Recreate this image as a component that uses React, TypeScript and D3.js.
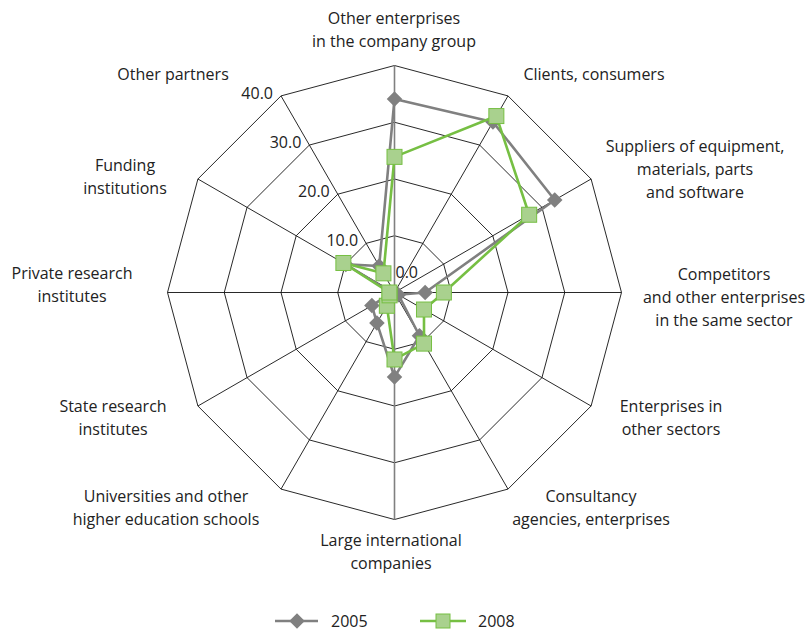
import React from 'react';
import * as d3 from 'd3';

// categories, clockwise from the top
const categories = [
  ['Other enterprises', 'in the company group'],
  ['Clients, consumers'],
  ['Suppliers of equipment,', 'materials, parts', 'and software'],
  ['Competitors', 'and other enterprises', 'in the same sector'],
  ['Enterprises in', 'other sectors'],
  ['Consultancy', 'agencies, enterprises'],
  ['Large international', 'companies'],
  ['Universities and other', 'higher education schools'],
  ['State research', 'institutes'],
  ['Private research', 'institutes'],
  ['Funding', 'institutions'],
  ['Other partners'],
];

const values2005 = [34.1, 34.7, 32.6, 5.4, 0.8, 8.8, 14.9, 6.2, 4.6, 0.5, 9.9, 5.4];
const values2008 = [23.9, 35.9, 27.4, 8.7, 6.0, 10.4, 11.8, 2.7, 1.0, 0.9, 10.4, 3.9];

const ticks = [0, 10, 20, 30, 40];

// label block centres (layout only)
const labelPos: [number, number][] = [
  [394, 30], [594, 74], [695, 169], [724, 297], [671, 418], [591, 508],
  [391, 552], [166, 508], [113, 418], [72, 285], [125, 177], [173, 74],
];

const W = 810;
const H = 632;
const cx = 394.5;
const cy = 292.5;
const R = 227;
const FONT = '"Open Sans", "Noto Sans", sans-serif';
const GREY = '#808080';
const GREEN = '#76bf43';
const GREEN_FILL = '#a9d18e';

export default function App() {
  const r = d3.scaleLinear().domain([0, 40]).range([0, R]);
  const angle = d3.scaleLinear().domain([0, categories.length]).range([0, 2 * Math.PI]);

  const pt = (i: number, v: number): [number, number] => {
    const a = angle(i);
    return [cx + r(v) * Math.sin(a), cy - r(v) * Math.cos(a)];
  };

  const ring = (v: number) =>
    d3.line()(categories.map((_, i) => pt(i, v))) + 'Z';

  const seriesPath = (vals: number[]) =>
    d3.line()(vals.map((v, i) => pt(i, v))) + 'Z';

  const lineH = 23;
  const legendY = 621;

  return (
    <svg
      width={W}
      height={H}
      style={{ position: 'absolute', left: 0, top: 0, background: '#fff' }}
      fontFamily={FONT}
    >
      {/* grid rings */}
      {ticks.slice(1).map((t) => (
        <path key={t} d={ring(t)} fill="none" stroke="#111" strokeWidth={0.9} />
      ))}
      {/* spokes */}
      {categories.map((_, i) => {
        const [x, y] = pt(i, 40);
        const vertical = i === 0 || i === 6;
        return (
          <line
            key={i}
            x1={cx}
            y1={cy}
            x2={x}
            y2={y}
            stroke={vertical ? GREY : '#111'}
            strokeWidth={vertical ? 1.6 : 0.9}
          />
        );
      })}

      {/* tick labels */}
      {ticks.map((t) => {
        if (t === 0) {
          return (
            <text key={t} x={cx + 1} y={cy - 20} dy="0.35em" fontSize={16} fill="#222">
              {d3.format('.1f')(t)}
            </text>
          );
        }
        const [x, y] = pt(11, t);
        return (
          <text key={t} x={x - 8} y={y - 3} dy="0.35em" fontSize={16} fill="#222" textAnchor="end">
            {d3.format('.1f')(t)}
          </text>
        );
      })}

      {/* series 2005 */}
      <path d={seriesPath(values2005)} fill="none" stroke={GREY} strokeWidth={2.6} strokeLinejoin="round" />
      {values2005.map((v, i) => {
        const [x, y] = pt(i, v);
        return (
          <rect
            key={i}
            x={x - 5.5}
            y={y - 5.5}
            width={11}
            height={11}
            fill={GREY}
            transform={`rotate(45 ${x} ${y})`}
          />
        );
      })}

      {/* series 2008 */}
      <path d={seriesPath(values2008)} fill="none" stroke={GREEN} strokeWidth={2.6} strokeLinejoin="round" />
      {values2008.map((v, i) => {
        const [x, y] = pt(i, v);
        return (
          <rect
            key={i}
            x={x - 7.5}
            y={y - 7.5}
            width={15}
            height={15}
            fill={GREEN_FILL}
            stroke={GREEN}
            strokeWidth={1}
          />
        );
      })}

      {/* category labels */}
      {categories.map((lines, i) => {
        const [lx, ly] = labelPos[i];
        const y0 = ly - ((lines.length - 1) * lineH) / 2;
        return (
          <text key={i} x={lx} textAnchor="middle" fontSize={16} fill="#222">
            {lines.map((s, j) => (
              <tspan key={j} x={lx} y={y0 + j * lineH} dy="0.35em">
                {s}
              </tspan>
            ))}
          </text>
        );
      })}

      {/* legend */}
      <g>
        <line x1={275} x2={318} y1={legendY} y2={legendY} stroke={GREY} strokeWidth={2.6} />
        <rect
          x={291.5}
          y={legendY - 5.5}
          width={11}
          height={11}
          fill={GREY}
          transform={`rotate(45 297 ${legendY})`}
        />
        <text x={331} y={legendY} dy="0.35em" fontSize={16} fill="#222">2005</text>
        <line x1={420} x2={466} y1={legendY} y2={legendY} stroke={GREEN} strokeWidth={2.6} />
        <rect x={436} y={legendY - 7} width={14} height={14} fill={GREEN_FILL} stroke={GREEN} strokeWidth={1} />
        <text x={478} y={legendY} dy="0.35em" fontSize={16} fill="#222">2008</text>
      </g>
    </svg>
  );
}
